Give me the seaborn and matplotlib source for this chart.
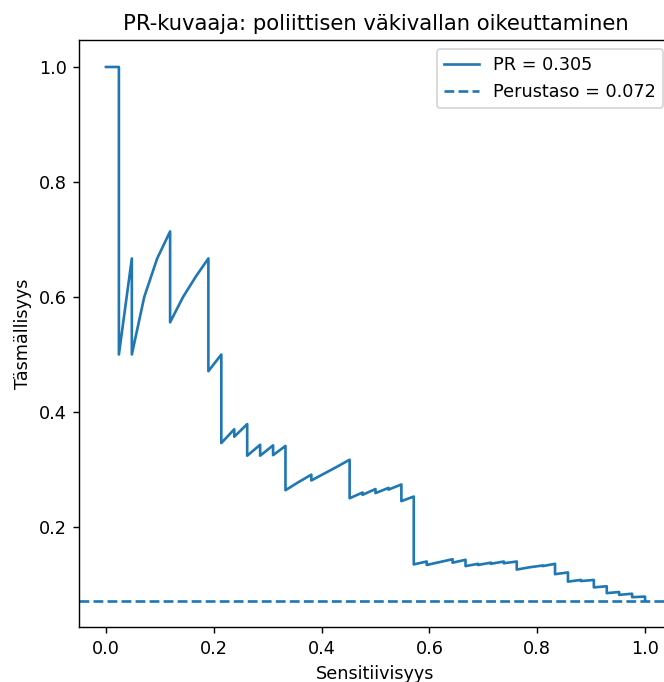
import matplotlib
matplotlib.use("Agg")
import matplotlib.pyplot as plt
import seaborn as sns
import pandas as pd

recall = [0.0, 0.024, 0.024, 0.048, 0.048, 0.071, 0.095, 0.119, 0.119, 0.143,
          0.167, 0.190, 0.190, 0.214, 0.214, 0.238, 0.238, 0.262, 0.262, 0.286,
          0.286, 0.310, 0.310, 0.333, 0.333, 0.357, 0.381, 0.381, 0.405, 0.429,
          0.452, 0.452, 0.476, 0.476, 0.500, 0.500, 0.524, 0.524, 0.548, 0.548,
          0.571, 0.571, 0.595, 0.595, 0.619, 0.643, 0.643, 0.667, 0.667, 0.690,
          0.690, 0.714, 0.714, 0.738, 0.738, 0.762, 0.762, 0.786, 0.810, 0.810,
          0.833, 0.833, 0.857, 0.857, 0.881, 0.881, 0.905, 0.905, 0.929, 0.929,
          0.952, 0.952, 0.976, 0.976, 1.0, 1.0]
precision = [1.0, 1.0, 0.5, 0.667, 0.5, 0.6, 0.667, 0.714, 0.556, 0.6,
             0.636, 0.667, 0.471, 0.5, 0.346, 0.370, 0.357, 0.379, 0.324, 0.343,
             0.324, 0.342, 0.325, 0.341, 0.264, 0.278, 0.291, 0.281, 0.293, 0.305,
             0.317, 0.250, 0.260, 0.256, 0.266, 0.259, 0.268, 0.265, 0.274, 0.245,
             0.253, 0.135, 0.140, 0.134, 0.139, 0.144, 0.138, 0.143, 0.132, 0.136,
             0.134, 0.138, 0.136, 0.140, 0.137, 0.140, 0.126, 0.130, 0.133, 0.132,
             0.136, 0.118, 0.121, 0.105, 0.108, 0.106, 0.108, 0.095, 0.097, 0.085,
             0.087, 0.082, 0.084, 0.078, 0.079, 0.072]

pr_auc = 0.305
baseline = 0.072

title = "PR-kuvaaja: poliittisen väkivallan oikeuttaminen"
xlabel = "Sensitiivisyys"
ylabel = "Täsmällisyys"

df = pd.DataFrame({"recall": recall, "precision": precision})

DPI = 127
fig = plt.figure(figsize=(664 / DPI, 682 / DPI), dpi=DPI)
ax = fig.add_axes([79 / 664, (682 - 627.3) / 682, 593 / 664, 587 / 682])

sns.lineplot(data=df, x="recall", y="precision", sort=False, estimator=None,
             ax=ax, color="C0", label=f"PR = {pr_auc:.3f}")
ax.axhline(baseline, linestyle="--", color="C0", label=f"Perustaso = {baseline:.3f}")

ax.set_xlim(-0.05, 1.05)
ax.set_ylim(baseline - 0.05 * (1 - baseline), 1 + 0.05 * (1 - baseline))
ax.set_xticks([0.0, 0.2, 0.4, 0.6, 0.8, 1.0])
ax.set_yticks([0.2, 0.4, 0.6, 0.8, 1.0])
ax.set_title(title)
ax.set_xlabel(xlabel)
ax.set_ylabel(ylabel)
ax.legend(loc="upper right")

fig.savefig("out.png", dpi=DPI)
